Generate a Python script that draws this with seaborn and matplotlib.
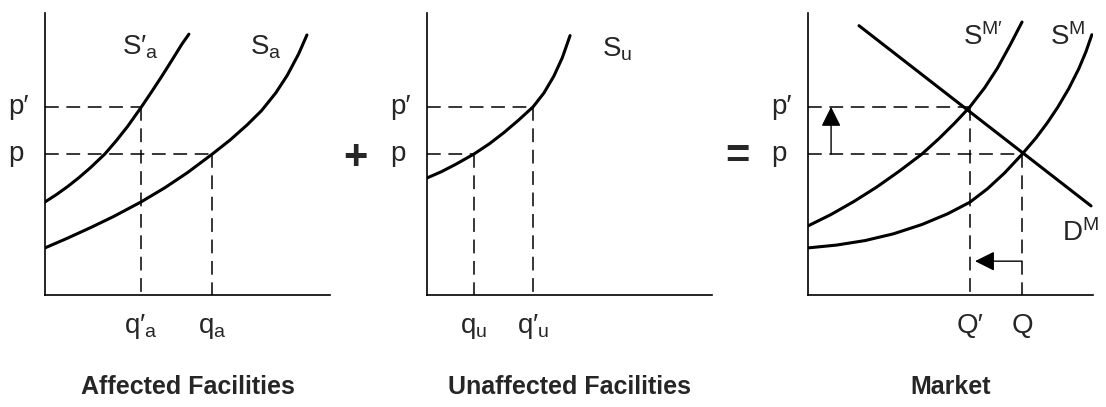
import matplotlib

matplotlib.use("Agg")
import matplotlib.pyplot as plt
import numpy as np
import pandas as pd
import seaborn as sns

# price levels p and p' (shared by all three panels)
P_LEVELS = [5.0, 6.67]
P_LABELS = ["p", "p\u2032"]

# affected facilities
Q_AFFECTED = [3.37, 5.86]          # q'a, qa
Q_AFFECTED_LABELS = ["$q\u2032_a$", "$q_a$"]
SA_PRIME_X = [0, 0.4, 0.8, 1.2, 1.6, 2.1, 2.5, 2.9, 3.37, 3.75, 4.1, 4.45, 4.8, 5.05]
SA_PRIME_Y = [3.3, 3.56, 3.85, 4.17, 4.52, 5.0, 5.47, 5.98, 6.65, 7.22, 7.76, 8.32, 8.89, 9.25]
SA_X = [0, 0.8, 1.6, 2.4, 3.37, 4.2, 5.0, 5.86, 6.5, 7.1, 7.6, 8.1, 8.5, 8.9, 9.19]
SA_Y = [1.67, 2.02, 2.39, 2.78, 3.3, 3.8, 4.34, 4.99, 5.5, 6.04, 6.54, 7.17, 7.79, 8.55, 9.22]

# unaffected facilities
Q_UNAFFECTED = [1.65, 3.72]        # qu, q'u
Q_UNAFFECTED_LABELS = ["$q_u$", "$q\u2032_u$"]
SU_X = [0, 0.5, 1.0, 1.65, 2.2, 2.7, 3.2, 3.72, 4.1, 4.45, 4.75, 5.02]
SU_Y = [4.15, 4.37, 4.63, 5.0, 5.37, 5.76, 6.19, 6.67, 7.16, 7.76, 8.42, 9.2]

# market
Q_MARKET = [5.68, 7.51]            # Q', Q
Q_MARKET_LABELS = ["Q\u2032", "Q"]
SM_PRIME_X = [0, 0.8, 1.6, 2.4, 3.2, 4.0, 4.6, 5.15, 5.68, 6.2, 6.65, 7.1, 7.51]
SM_PRIME_Y = [2.45, 2.85, 3.31, 3.82, 4.39, 5.0, 5.55, 6.1, 6.67, 7.35, 8.05, 8.88, 9.68]
SM_X = [0, 1.0, 2.0, 3.0, 4.0, 4.9, 5.68, 6.3, 6.9, 7.51, 8.0, 8.4, 8.77, 9.15, 9.5, 9.75, 9.96]
SM_Y = [1.67, 1.77, 1.93, 2.17, 2.5, 2.88, 3.29, 3.77, 4.33, 4.99, 5.57, 6.11, 6.67, 7.32,
        8.02, 8.62, 9.23]
DM_X = [1.79, 9.93]
DM_Y = [9.55, 3.16]

TITLES = ["Affected Facilities", "Unaffected Facilities", "Market"]

sns.set_style("white")
plt.rcParams["font.family"] = ["Liberation Sans", "DejaVu Sans"]
plt.rcParams["mathtext.fontset"] = "custom"
plt.rcParams["mathtext.rm"] = "Liberation Sans"
plt.rcParams["mathtext.it"] = "Liberation Sans"
plt.rcParams["mathtext.default"] = "regular"

FS = 20
CURVE_LW = 2.2
DASH = dict(color="black", lw=1.1, dashes=(9, 5))

fig = plt.figure(figsize=(11.06, 4.07), dpi=100)
lefts = [45 / 1106, 427 / 1106, 808 / 1106]
axes = [fig.add_axes([l, 112 / 407, 285 / 1106, 282 / 407]) for l in lefts]


def setup(ax, title):
    ax.set_xlim(0, 10)
    ax.set_ylim(0, 10)
    ax.set_xticks([])
    ax.set_yticks([])
    sns.despine(ax=ax)
    for s in ("left", "bottom"):
        ax.spines[s].set_linewidth(1.2)
        ax.spines[s].set_color("black")
    ax.text(0.5, -0.326, title, transform=ax.transAxes, ha="center",
            va="center", fontsize=18, fontweight="bold")
    tr = ax.get_yaxis_transform()
    for lvl, lab in zip(P_LEVELS, P_LABELS):
        ax.text(-0.13, lvl, lab, transform=tr, ha="left", va="center", fontsize=FS)


def curve(ax, xs, ys):
    sns.lineplot(x=xs, y=ys, ax=ax, color="black", lw=CURVE_LW, sort=False,
                 estimator=None)


def guides(ax, qs, levels, labels):
    tr = ax.get_xaxis_transform()
    for q, lvl, lab in zip(qs, levels, labels):
        ax.plot([0, q], [lvl, lvl], **DASH)
        ax.plot([q, q], [lvl, 0], **DASH)
        ax.text(q, -0.135, lab, transform=tr, ha="center", va="baseline", fontsize=FS)


ax1, ax2, ax3 = axes
for ax, t in zip(axes, TITLES):
    setup(ax, t)

# panel 1
curve(ax1, SA_PRIME_X, SA_PRIME_Y)
curve(ax1, SA_X, SA_Y)
guides(ax1, Q_AFFECTED, P_LEVELS[::-1], Q_AFFECTED_LABELS)
ax1.text(2.7, 8.8, "$S\u2032_a$", fontsize=FS, va="center")
ax1.text(7.2, 8.8, "$S_a$", fontsize=FS, va="center")

# panel 2
curve(ax2, SU_X, SU_Y)
guides(ax2, Q_UNAFFECTED, P_LEVELS, Q_UNAFFECTED_LABELS)
ax2.text(6.14, 8.72, "$S_u$", fontsize=FS, va="center")

# panel 3
curve(ax3, SM_PRIME_X, SM_PRIME_Y)
curve(ax3, SM_X, SM_Y)
curve(ax3, DM_X, DM_Y)
guides(ax3, Q_MARKET, P_LEVELS[::-1], Q_MARKET_LABELS)
ax3.text(5.45, 9.15, "S$^{M\u2032}$", fontsize=FS, va="center")
ax3.text(8.5, 9.15, "S$^{M}$", fontsize=FS, va="center")
ax3.text(8.9, 2.2, "D$^{M}$", fontsize=FS, va="center")
arrow = dict(arrowstyle="-|>,head_length=0.6,head_width=0.3", color="black",
             lw=1.0, mutation_scale=20, shrinkA=0, shrinkB=0)
ax3.annotate("", xy=(0.81, P_LEVELS[1]), xytext=(0.81, P_LEVELS[0]), arrowprops=arrow)
ax3.annotate("", xy=(Q_MARKET[0] + 0.18, 1.2), xytext=(Q_MARKET[1], 1.2), arrowprops=arrow)

fig.text(355 / 1106, 1 - 158 / 407, "+", ha="center", va="center",
         fontsize=30, fontweight="bold")
fig.text(737 / 1106, 1 - 157 / 407, "=", ha="center", va="center",
         fontsize=30, fontweight="bold")

fig.savefig("out.png", dpi=100)
